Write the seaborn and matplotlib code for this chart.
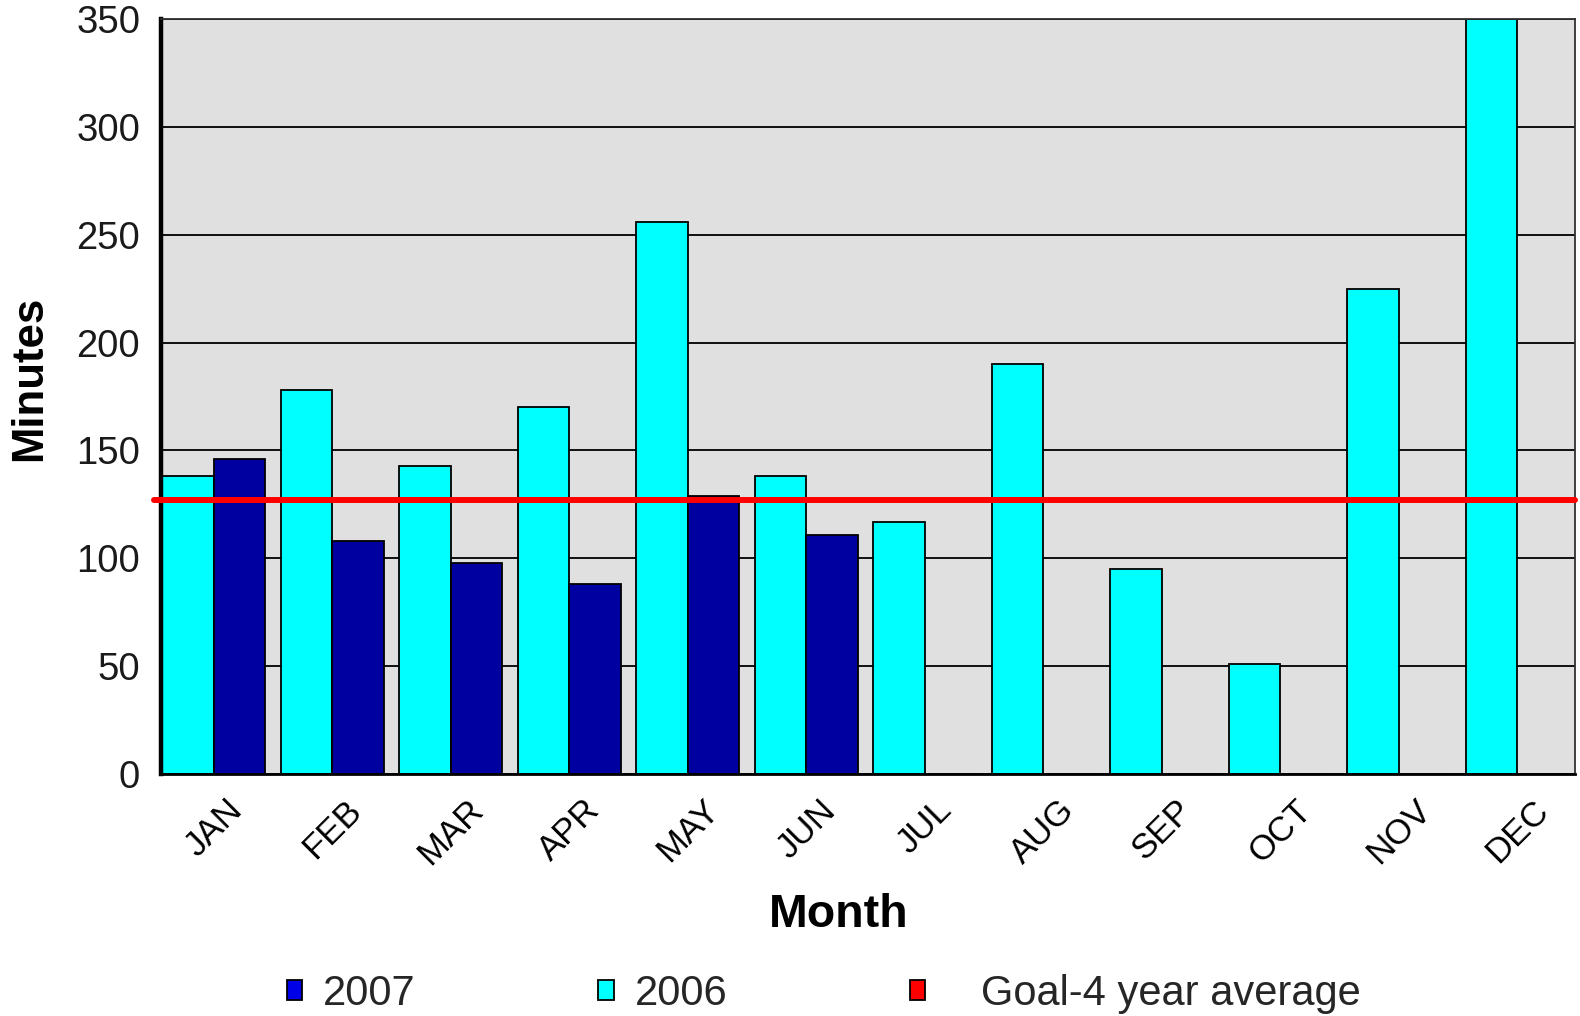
import matplotlib
matplotlib.use("Agg")
import matplotlib.pyplot as plt
import pandas as pd
import seaborn as sns
from matplotlib.patches import Patch

# Monthly minutes per year
months = ["JAN", "FEB", "MAR", "APR", "MAY", "JUN",
          "JUL", "AUG", "SEP", "OCT", "NOV", "DEC"]
minutes_2006 = [138, 178, 143, 170, 256, 138, 117, 190, 95, 51, 225, 350]
minutes_2007 = [146, 108, 98, 88, 129, 111, 0, 0, 0, 0, 0, 0]
goal_4yr_avg = 127
y_ticks = [0, 50, 100, 150, 200, 250, 300, 350]
legend_labels = ["2007", "2006", "   Goal-4 year average"]

sns.set_theme(style="white")
plt.rcParams["font.family"] = ["Liberation Sans", "DejaVu Sans"]

df = pd.DataFrame({
    "Month": months * 2,
    "Minutes": minutes_2006 + minutes_2007,
    "Year": ["2006"] * len(months) + ["2007"] * len(months),
})

W, H = 1580, 1016
fig = plt.figure(figsize=(W / 100, H / 100), dpi=100)
ax = fig.add_axes([161 / W, 1 - 774 / H, 1414 / W, 755 / H])
ax.set_facecolor("#E0E0E0")

sns.barplot(
    data=df, x="Month", y="Minutes", hue="Year",
    order=months, hue_order=["2006", "2007"],
    palette={"2006": "#00FFFF", "2007": "#0000A0"},
    width=0.871, edgecolor="black", linewidth=1.3, saturation=1,
    legend=False, ax=ax, zorder=2,
)

ax.set_ylim(0, 350)
ax.set_xlim(-0.444, 11.487)
ax.set_yticks(y_ticks)
ax.yaxis.grid(True, color="black", linewidth=1.3)
ax.xaxis.grid(False)
ax.set_axisbelow(True)

# goal line
ax.axhline(goal_4yr_avg, xmin=-0.005, xmax=1.0, color="#FF0000",
           linewidth=4.3, clip_on=False, zorder=5)

for side, lw, col in [("left", 3.2, "black"), ("bottom", 2.0, "black"),
                      ("top", 1.3, "#303030"), ("right", 1.3, "#303030")]:
    ax.spines[side].set_visible(True)
    ax.spines[side].set_linewidth(lw)
    ax.spines[side].set_color(col)

ax.tick_params(axis="y", length=0, pad=15, labelsize=27.5, labelcolor="#1a1a1a")
ax.tick_params(axis="x", length=0, pad=14, labelsize=25, labelcolor="black")
for lbl in ax.get_xticklabels():
    lbl.set_rotation(45)
    lbl.set_ha("center")

ax.set_xlabel("Month", fontsize=33.5, fontweight="bold", color="black")
ax.xaxis.set_label_coords(0.4795, -0.157)
ax.set_ylabel("Minutes", fontsize=31.5, fontweight="bold", color="black")
ax.yaxis.label.set_va("center")
ax.yaxis.set_label_coords(-0.0926, 0.5245)

handles = [
    Patch(facecolor="#0000E8", edgecolor="black", linewidth=1.3),
    Patch(facecolor="#00FFFF", edgecolor="black", linewidth=1.3),
    Patch(facecolor="#FF0000", edgecolor="black", linewidth=1.3),
]
fig.legend(handles, legend_labels, loc="center",
           bbox_to_anchor=(824 / W, 1 - 994 / H), ncol=3, frameon=False,
           fontsize=30, handlelength=0.37, handleheight=0.37,
           handletextpad=0.5, columnspacing=4.38)

fig.savefig("out.png", dpi=100, facecolor="white")
